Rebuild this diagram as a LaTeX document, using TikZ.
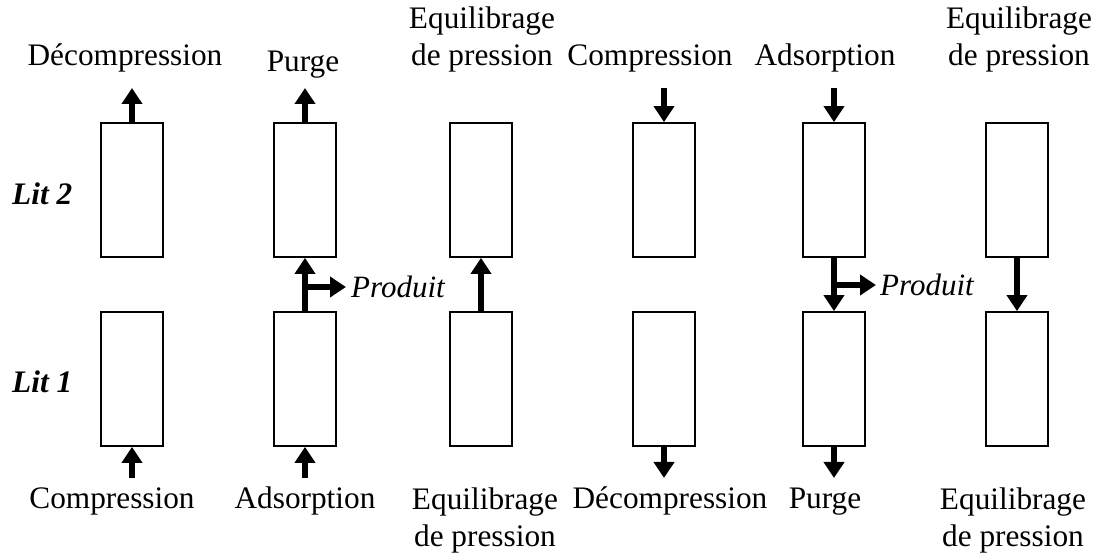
\documentclass[tikz,border=0pt]{standalone}
\usepackage{fontspec}
\setmainfont{Liberation Serif}
\usetikzlibrary{arrows.meta}
\begin{document}
\begin{tikzpicture}[x=1pt,y=-1pt,
  bed/.style={draw,line width=1.8pt,minimum width=62pt,minimum height=134pt,inner sep=0pt},
  flow/.style={line width=6pt,-{Triangle[width=20pt,length=16pt]}},
  lbl/.style={inner sep=0pt,anchor=base,font=\fontsize{31.3}{37}\selectfont},
  litlbl/.style={lbl,anchor=base west,font=\fontsize{31.3}{37}\selectfont\bfseries\itshape},
  prod/.style={inner sep=0pt,anchor=base west,font=\fontsize{31}{36}\selectfont\itshape}]
\useasboundingbox (0,0) rectangle (1096,553);
\newcommand{\twoline}[2]{\begin{tabular}[b]{@{}c@{}}#1\\#2\end{tabular}}

% beds: upper row is Lit 2, lower row is Lit 1
\foreach \i/\x in {1/132,2/305,3/481,4/664,5/834,6/1017}{
  \node[bed] (u\i) at (\x,190) {};
  \node[bed] (l\i) at (\x,379) {};
}

% row labels
\node[litlbl] (lit2) at (12,205) {Lit 2};
\node[litlbl] (lit1) at (12,393) {Lit 1};

% top labels
\node[lbl] (t1) at (125,66) {Décompression};
\node[lbl] (t2) at (303,72) {Purge};
\node[lbl] (t3) at (482,66) {\twoline{Equilibrage}{de pression}};
\node[lbl] (t4) at (650,66) {Compression};
\node[lbl] (t5) at (825,66) {Adsorption};
\node[lbl] (t6) at (1019,66) {\twoline{Equilibrage}{de pression}};

% bottom labels
\node[lbl] (d1) at (112,508) {Compression};
\node[lbl] (d2) at (305,508) {Adsorption};
\node[lbl] (d3) at (485,546) {\twoline{Equilibrage}{de pression}};
\node[lbl] (d4) at (670,508) {Décompression};
\node[lbl] (d5) at (825,508) {Purge};
\node[lbl] (d6) at (1013,546) {\twoline{Equilibrage}{de pression}};

% free ends of the feed and exhaust arrows
\coordinate (a1) at (132,88);
\coordinate (a2) at (305,88);
\coordinate (a4) at (664,88);
\coordinate (a5) at (834,88);
\coordinate (z1) at (132,478);
\coordinate (z2) at (305,478);
\coordinate (z4) at (664,478);
\coordinate (z5) at (834,478);

% top of the upper beds
\draw[flow] (u1.north) -- (a1);
\draw[flow] (u2.north) -- (a2);
\draw[flow] (a4) -- (u4.north);
\draw[flow] (a5) -- (u5.north);

% bottom of the lower beds
\draw[flow] (z1) -- (l1.south);
\draw[flow] (z2) -- (l2.south);
\draw[flow] (l4.south) -- (z4);
\draw[flow] (l5.south) -- (z5);

% transfers between the beds
\draw[flow] (l2.north) -- (u2.south);
\draw[flow] (l3.north) -- (u3.south);
\draw[flow] (u5.south) -- (l5.north);
\draw[flow] (u6.south) -- (l6.north);

% product draw-off
\coordinate (p2) at (305,287);
\coordinate (q2) at (346,287);
\coordinate (p5) at (834,285);
\coordinate (q5) at (876,285);
\draw[flow] (p2) -- (q2);
\draw[flow] (p5) -- (q5);
\node[prod] (prod2) at (351,298) {Produit};
\node[prod] (prod5) at (880,296) {Produit};
\end{tikzpicture}
\end{document}
